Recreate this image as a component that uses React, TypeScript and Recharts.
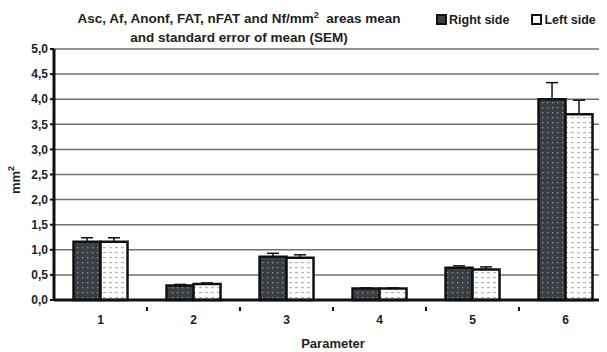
import { Bar, BarChart, CartesianGrid, ErrorBar, XAxis, YAxis } from "recharts";

const categories = ["1", "2", "3", "4", "5", "6"];
const rightMean = [1.16, 0.29, 0.86, 0.23, 0.64, 4.0];
const rightSem = [0.08, 0.02, 0.07, 0.01, 0.04, 0.33];
const leftMean = [1.16, 0.32, 0.84, 0.23, 0.61, 3.7];
const leftSem = [0.08, 0.02, 0.06, 0.01, 0.05, 0.28];
const yTicks = [0, 0.5, 1, 1.5, 2, 2.5, 3, 3.5, 4, 4.5, 5];

const data = categories.map((c, i) => ({
  name: c,
  right: rightMean[i],
  rightErr: [0, rightSem[i]],
  left: leftMean[i],
  leftErr: [0, leftSem[i]],
}));

const FONT = "'Liberation Sans', Arial, sans-serif";
const CHART_W = 620;
const CHART_H = 352;
const PLOT_LEFT = 54;
const PLOT_RIGHT = 612;
const CAT_W = (PLOT_RIGHT - PLOT_LEFT) / categories.length;

function XTick(props: any) {
  const { x, y, payload, index } = props;
  return (
    <g>
      <text
        x={x}
        y={y + 16}
        textAnchor="middle"
        fontFamily={FONT}
        fontWeight="bold"
        fontSize={12}
        fill="#222"
      >
        {payload.value}
      </text>
      {index < categories.length - 1 && (
        <rect x={x + CAT_W / 2 - 1} y={y - 1} width={2} height={4} fill="#111" />
      )}
    </g>
  );
}

function Patterns() {
  return (
    <svg width={0} height={0} style={{ position: "absolute" }}>
      <defs>
        <pattern id="darkDots" width={5} height={5} patternUnits="userSpaceOnUse">
          <rect width={5} height={5} fill="#3a3f46" />
          <rect x={2} y={2} width={1.3} height={1.3} fill="#8b929b" />
        </pattern>
        <pattern id="lightDash" width={6} height={5} patternUnits="userSpaceOnUse">
          <rect width={6} height={5} fill="#ffffff" />
          <rect x={1} y={2} width={3} height={1.2} fill="#b4b4b4" />
        </pattern>
      </defs>
    </svg>
  );
}

function LegendBox({ fill }: { fill: string }) {
  return (
    <span
      style={{
        display: "inline-block",
        width: 7,
        height: 7,
        border: "2px solid #111",
        background: fill,
        marginRight: 2,
        verticalAlign: "-1px",
      }}
    />
  );
}

export default function App() {
  return (
    <div
      style={{
        position: "relative",
        width: 607,
        height: 352,
        margin: "-8px 0 0 -8px",
        overflow: "hidden",
        background: "#fff",
        fontFamily: FONT,
      }}
    >
      <Patterns />
      <div
        style={{
          position: "absolute",
          left: 44,
          width: 390,
          top: 9,
          textAlign: "center",
          fontWeight: "bold",
          fontSize: 13.5,
          lineHeight: "19px",
          color: "#222",
          whiteSpace: "nowrap",
        }}
      >
        Asc, Af, Anonf, FAT, nFAT and Nf/mm<sup style={{ fontSize: 9, lineHeight: 0 }}>2</sup>&nbsp; areas mean
        <br />
        and standard error of mean (SEM)
      </div>
      <div
        style={{
          position: "absolute",
          top: 13,
          left: 436,
          fontWeight: "bold",
          fontSize: 12.5,
          color: "#222",
          whiteSpace: "nowrap",
        }}
      >
        <LegendBox fill="#3a3f46" />
        Right side
        <span style={{ display: "inline-block", width: 22 }} />
        <LegendBox fill="#fff" />
        Left side
      </div>
      <div
        style={{
          position: "absolute",
          left: 7,
          top: 180,
          transform: "translate(-50%, -50%) rotate(-90deg)",
          transformOrigin: "center",
          marginLeft: 8,
          fontWeight: "bold",
          fontSize: 13,
          color: "#222",
          whiteSpace: "nowrap",
        }}
      >
        mm<sup style={{ fontSize: 9, lineHeight: 0 }}>2</sup>
      </div>
      <div style={{ position: "absolute", left: 0, top: 0 }}>
        <BarChart
          width={CHART_W}
          height={CHART_H}
          data={data}
          margin={{ top: 49, right: CHART_W - PLOT_RIGHT, left: 0, bottom: 22 }}
          barCategoryGap="21%"
          barGap={0}
        >
          <CartesianGrid vertical={false} stroke="#6f6f6f" strokeWidth={1.5} />
          <XAxis
            dataKey="name"
            axisLine={{ stroke: "#111", strokeWidth: 3 }}
            tickLine={false}
            tick={<XTick />}
            height={30}
            interval={0}
            label={{
              value: "Parameter",
              position: "insideBottom",
              offset: -18,
              style: { fontFamily: FONT, fontWeight: "bold", fontSize: 13, fill: "#222" },
            }}
          />
          <YAxis
            domain={[0, 5]}
            ticks={yTicks}
            width={PLOT_LEFT}
            interval={0}
            axisLine={{ stroke: "#111", strokeWidth: 3 }}
            tickLine={{ stroke: "#111", strokeWidth: 2 }}
            tickSize={4}
            tickMargin={2}
            tickFormatter={(v: number) => v.toFixed(1).replace(".", ",")}
            tick={{ fontFamily: FONT, fontWeight: "bold", fontSize: 12, fill: "#222" }}
          />
          <Bar dataKey="right" fill="url(#darkDots)" stroke="#111" strokeWidth={2.5} isAnimationActive={false}>
            <ErrorBar dataKey="rightErr" direction="y" width={6} stroke="#111" strokeWidth={1.5} />
          </Bar>
          <Bar dataKey="left" fill="url(#lightDash)" stroke="#111" strokeWidth={2.5} isAnimationActive={false}>
            <ErrorBar dataKey="leftErr" direction="y" width={6} stroke="#111" strokeWidth={1.5} />
          </Bar>
        </BarChart>
      </div>
    </div>
  );
}
